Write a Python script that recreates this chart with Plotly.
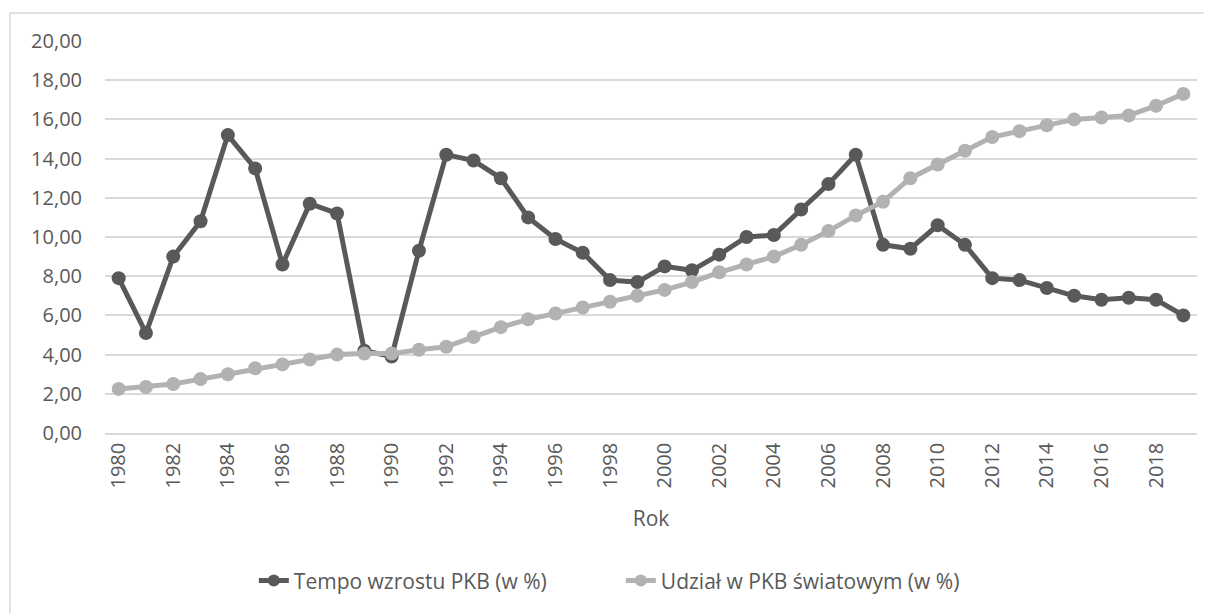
import plotly.graph_objects as go

years = list(range(1980, 2020))
growth = [7.9, 5.1, 9.0, 10.8, 15.2, 13.5, 8.6, 11.7, 11.2, 4.2,
          3.9, 9.3, 14.2, 13.9, 13.0, 11.0, 9.9, 9.2, 7.8, 7.7,
          8.5, 8.3, 9.1, 10.0, 10.1, 11.4, 12.7, 14.2, 9.6, 9.4,
          10.6, 9.6, 7.9, 7.8, 7.4, 7.0, 6.8, 6.9, 6.8, 6.0]
share = [2.25, 2.35, 2.5, 2.75, 3.0, 3.3, 3.5, 3.75, 4.0, 4.05,
         4.05, 4.25, 4.4, 4.9, 5.4, 5.8, 6.1, 6.4, 6.7, 7.0,
         7.3, 7.7, 8.2, 8.6, 9.0, 9.6, 10.3, 11.1, 11.8, 13.0,
         13.7, 14.4, 15.1, 15.4, 15.7, 16.0, 16.1, 16.2, 16.7, 17.3]
x_ticks = list(range(1980, 2019, 2))
y_ticks = list(range(0, 21, 2))

name_growth = "Tempo wzrostu PKB (w %)"
name_share = "Udział w PKB światowym (w %)"

text_color = "#595959"
grid_color = "#d9d9d9"
font_family = "Open Sans"

fig = go.Figure()
fig.add_trace(go.Scatter(
    x=years, y=growth, name=name_growth, mode="lines+markers",
    line=dict(color="#595959", width=5),
    marker=dict(color="#595959", size=14),
))
fig.add_trace(go.Scatter(
    x=years, y=share, name=name_share, mode="lines+markers",
    line=dict(color="#b2b2b2", width=5),
    marker=dict(color="#b2b2b2", size=14),
))

fig.update_layout(
    width=1204, height=605,
    margin=dict(l=97, r=15, t=33, b=180),
    paper_bgcolor="white", plot_bgcolor="white",
    separators=",.",
    font=dict(family=font_family, color=text_color, size=20),
    showlegend=True,
    legend=dict(
        orientation="h", xref="container", yref="container",
        x=0.509, xanchor="center", y=0.053, yanchor="middle",
        font=dict(size=21, color=text_color), itemsizing="constant",
        entrywidth=322, entrywidthmode="pixels",
    ),
    shapes=[dict(
        type="rect", xref="paper", yref="paper",
        x0=-0.087, x1=1.0128, y0=-0.47, y1=1.0714,
        line=dict(color=grid_color, width=1.5), fillcolor="rgba(0,0,0,0)",
        layer="below",
    )],
)

fig.update_xaxes(
    range=[1979.5, 2019.5],
    tickvals=x_ticks, ticktext=[str(v) for v in x_ticks],
    tickangle=-90, showgrid=False, zeroline=False,
    showline=True, linecolor=grid_color, linewidth=1.5,
    ticks="", tickfont=dict(size=20, color=text_color),
    title=dict(text="Rok", standoff=24, font=dict(size=21, color=text_color)),
)
fig.update_yaxes(
    range=[0, 20], tickvals=y_ticks, tickformat=".2f",
    showgrid=True, gridcolor=grid_color, gridwidth=1.5,
    zeroline=False, showline=False, ticks="",
    ticklabelstandoff=22,
    tickfont=dict(size=20, color=text_color),
)

fig.write_html("out.html")
